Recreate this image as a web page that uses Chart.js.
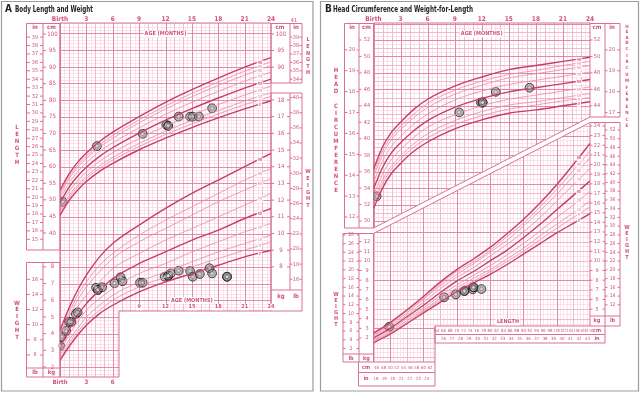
<!DOCTYPE html>
<html>
<head>
<meta charset="utf-8">
<title>Body length, weight, head circumference</title>
<script src="https://cdn.jsdelivr.net/npm/chart.js@4.4.1/dist/chart.umd.min.js"></script>
<style>
  html, body { margin: 0; padding: 0; background: #fff; }
  #page { position: relative; width: 640px; height: 393px; overflow: hidden; }
  #page canvas { position: absolute; left: 0; top: 0; }
</style>
</head>
<body>
<div id="page">
  <canvas id="chartA" width="640" height="393"></canvas>
  <canvas id="chartB" width="640" height="393"></canvas>
</div>
<script>
// ---- reference curves (girls) ----
const ageMonths = [0, 1, 2, 3, 4.5, 6, 9, 12, 15, 18, 21, 24];
const percentiles = ['98', '95', '90', '75', '50', '25', '10', '5', '2'];
const heavyPercentiles = ['98', '50', '2'];

// length-for-age (cm), one row per percentile above
const lengthCurves = [
  [52.9, 57.7, 61.3, 64.1, 67.6, 70.4, 75.1, 79.4, 83.2, 86.7, 90.0, 92.9],
  [52.2, 56.9, 60.4, 63.2, 66.7, 69.4, 74.1, 78.3, 82.1, 85.5, 88.8, 91.6],
  [51.5, 56.2, 59.7, 62.5, 65.9, 68.6, 73.2, 77.4, 81.1, 84.5, 87.6, 90.5],
  [50.4, 55.0, 58.5, 61.2, 64.6, 67.2, 71.7, 75.8, 79.4, 82.7, 85.8, 88.5],
  [49.1, 53.7, 57.1, 59.8, 63.1, 65.7, 70.1, 74.0, 77.5, 80.7, 83.7, 86.4],
  [47.9, 52.4, 55.7, 58.4, 61.6, 64.2, 68.5, 72.2, 75.6, 78.7, 81.6, 84.3],
  [46.7, 51.2, 54.5, 57.1, 60.3, 62.8, 67.0, 70.7, 74.0, 76.9, 79.8, 82.3],
  [46.0, 50.5, 53.8, 56.4, 59.5, 62.0, 66.1, 69.7, 72.9, 75.9, 78.7, 81.2],
  [45.3, 49.7, 52.9, 55.5, 58.6, 61.0, 65.1, 68.6, 71.8, 74.7, 77.4, 79.9]
];

// weight-for-age (kg)
const weightCurves = [
  [4.2, 5.5, 6.6, 7.5, 8.6, 9.4, 10.5, 11.5, 12.4, 13.2, 14.0, 14.8],
  [4.0, 5.2, 6.3, 7.1, 8.1, 8.8, 9.9, 10.8, 11.6, 12.4, 13.2, 13.9],
  [3.9, 5.0, 6.0, 6.8, 7.7, 8.5, 9.5, 10.3, 11.1, 11.9, 12.6, 13.3],
  [3.6, 4.6, 5.6, 6.3, 7.1, 7.9, 8.8, 9.6, 10.3, 11.0, 11.7, 12.4],
  [3.2, 4.2, 5.1, 5.8, 6.6, 7.3, 8.2, 8.9, 9.6, 10.2, 10.9, 11.5],
  [2.9, 3.9, 4.7, 5.4, 6.1, 6.7, 7.6, 8.2, 8.9, 9.5, 10.1, 10.6],
  [2.7, 3.6, 4.3, 5.0, 5.7, 6.3, 7.1, 7.7, 8.3, 8.9, 9.4, 9.9],
  [2.5, 3.4, 4.1, 4.7, 5.4, 6.0, 6.8, 7.4, 8.0, 8.5, 9.0, 9.5],
  [2.4, 3.2, 3.9, 4.5, 5.2, 5.7, 6.5, 7.1, 7.6, 8.1, 8.6, 9.0]
];

// head circumference-for-age (cm)
const headCurves = [
  [36.3, 39.0, 40.8, 42.0, 43.6, 44.8, 46.4, 47.5, 48.4, 48.9, 49.4, 49.9],
  [35.8, 38.5, 40.3, 41.5, 43.0, 44.3, 45.9, 47.0, 47.8, 48.3, 48.9, 49.4],
  [35.4, 38.0, 39.9, 41.1, 42.6, 43.8, 45.4, 46.5, 47.4, 47.9, 48.4, 48.9],
  [34.7, 37.3, 39.1, 40.3, 41.8, 43.0, 44.7, 45.8, 46.6, 47.1, 47.6, 48.1],
  [33.9, 36.5, 38.3, 39.5, 41.0, 42.2, 43.8, 44.9, 45.7, 46.2, 46.7, 47.2],
  [33.1, 35.7, 37.5, 38.7, 40.2, 41.4, 42.9, 44.0, 44.8, 45.3, 45.8, 46.3],
  [32.4, 35.0, 36.7, 37.9, 39.4, 40.6, 42.2, 43.3, 44.1, 44.5, 45.0, 45.5],
  [32.0, 34.5, 36.3, 37.5, 39.0, 40.1, 41.7, 42.8, 43.6, 44.1, 44.6, 45.0],
  [31.5, 34.0, 35.8, 37.0, 38.5, 39.6, 41.2, 42.3, 43.1, 43.5, 44.0, 44.5]
];

// weight-for-length (kg) against length (cm)
const wflLengths = [45, 50, 55, 60, 65, 70, 75, 80, 85, 90, 95, 100, 105, 110];
const wflCurves = [
  [2.5, 3.6, 4.9, 6.3, 7.8, 9.1, 10.2, 11.4, 12.8, 14.3, 16.0, 17.9, 20.0, 22.2],
  [2.4, 3.5, 4.8, 6.1, 7.6, 8.9, 9.9, 11.1, 12.5, 13.9, 15.6, 17.4, 19.4, 21.4],
  [2.3, 3.4, 4.6, 6.0, 7.4, 8.6, 9.7, 10.9, 12.1, 13.6, 15.2, 16.9, 18.8, 20.7],
  [2.2, 3.2, 4.4, 5.7, 7.1, 8.3, 9.3, 10.5, 11.7, 13.0, 14.5, 16.2, 17.9, 19.6],
  [2.0, 3.0, 4.2, 5.4, 6.7, 7.9, 8.9, 10.0, 11.1, 12.4, 13.8, 15.3, 16.8, 18.3],
  [1.8, 2.8, 4.0, 5.1, 6.4, 7.5, 8.5, 9.5, 10.6, 11.8, 13.1, 14.5, 15.8, 17.2],
  [1.7, 2.6, 3.8, 4.9, 6.1, 7.2, 8.2, 9.1, 10.2, 11.3, 12.6, 13.8, 15.0, 16.2],
  [1.6, 2.5, 3.6, 4.8, 5.9, 7.0, 7.9, 8.9, 9.9, 11.0, 12.2, 13.4, 14.5, 15.6],
  [1.5, 2.4, 3.5, 4.6, 5.7, 6.8, 7.7, 8.6, 9.6, 10.7, 11.8, 12.9, 13.9, 14.9]
];

// ---- the child's measurements ----
const lengthVisitAge = [0.3, 4.2, 9.4, 12.1, 12.3, 12.3, 13.5, 14.8, 15.1, 15.8, 17.3];
const lengthVisitCm = [49.4, 66.2, 69.9, 72.6, 72.3, 72.3, 75.1, 75.1, 75.1, 75.1, 77.6];
const weightVisitAge = [0.0, 0.2, 0.7, 1.0, 1.1, 1.3, 1.8, 2.0, 4.1, 4.3, 4.3, 4.8, 6.2, 6.9, 7.1, 9.1, 9.4,
  11.9, 12.3, 12.3, 12.3, 12.6, 13.5, 14.8, 15.1, 15.9, 17.0, 17.3, 19.0, 19.0];
const weightVisitKg = [3.28, 3.82, 4.16, 4.70, 4.72, 4.70, 5.18, 5.28, 6.75, 6.62, 6.62, 6.78, 7.02, 7.38, 7.14, 7.05, 7.05,
  7.41, 7.47, 7.47, 7.47, 7.61, 7.77, 7.75, 7.41, 7.57, 7.92, 7.61, 7.41, 7.41];
const headVisitAge = [0.35, 9.5, 11.9, 12.1, 12.1, 13.55, 17.3];
const headVisitCm = [33.0, 43.2, 44.4, 44.4, 44.4, 45.7, 46.2];
const wflVisitCm = [49.7, 66.2, 69.7, 72.3, 72.3, 74.8, 75.0, 75.0, 77.4];
const wflVisitKg = [3.17, 6.22, 6.53, 6.88, 6.88, 7.05, 7.26, 7.26, 7.08];

// ---- tick labels ----
const ageTicks = [0, 3, 6, 9, 12, 15, 18, 21, 24];
const ageTicksLow = [9, 12, 15, 18, 21, 24];
const ageTicksBottom = [0, 3, 6];
const lenInLeft = [15, 16, 17, 18, 19, 20, 21, 22, 23, 24, 25, 26, 27, 28, 29, 30, 31, 32, 33, 34, 35, 36, 37, 38, 39];
const lenCmLeft = [40, 45, 50, 55, 60, 65, 70, 75, 80, 85, 90, 95, 100];
const lenCmRight = [90, 95, 100];
const lenInRight = [34, 35, 36, 37, 38, 39, 41];
const wtKgRight = [8, 9, 10, 11, 12, 13, 14, 15, 16, 17, 18];
const wtLbRight = [16, 18, 20, 22, 24, 26, 28, 30, 32, 34, 36, 38, 40];
const wtKgLeft = [2, 3, 4, 5, 6, 7, 8];
const wtLbLeft = [6, 8, 10, 12, 14, 16];
const headCmLeft = [30, 32, 34, 36, 38, 40, 42, 44, 46, 48, 50, 52];
const headInLeft = [12, 13, 14, 15, 16, 17, 18, 19, 20];
const headCmRight = [44, 46, 48, 50, 52];
const headInRight = [17, 18, 19, 20];
const wflKgLeft = [2, 3, 4, 5, 6, 7, 8, 9, 10, 11, 12];
const wflLbLeft = [2, 4, 6, 8, 10, 12, 14, 16, 18, 20, 22, 24, 26, 28];
const wflKgRight = [5, 6, 7, 8, 9, 10, 11, 12, 13, 14, 15, 16, 17, 18, 19, 20, 21, 22, 23, 24];
const wflLbRight = [12, 14, 16, 18, 20, 22, 24, 26, 28, 30, 32, 34, 36, 38, 40, 42, 44, 46, 48, 50, 52];
const lenCmLow = [46, 48, 50, 52, 54, 56, 58, 60, 62];
const lenInLow = [18, 19, 20, 21, 22, 23, 24];
const lenCmHigh = [64, 66, 68, 70, 72, 74, 76, 78, 80, 82, 84, 86, 88, 90, 92, 94, 96, 98, 100, 102, 104, 106, 108, 110];
const lenInHigh = [26, 27, 28, 29, 30, 31, 32, 33, 34, 35, 36, 37, 38, 39, 40, 41, 42, 43];

const PINK = '#d0507a';
const FRAME = '#d9718f';
const GRID_MINOR = '#f9dce5';
const GRID_MID = '#efb3c4';
const GRID_MAJOR = '#df849e';
const CURVE_DARK = '#c63e69';
const CURVE_LIGHT = '#e78ba6';
const NARROW = '"Liberation Sans Narrow", "DejaVu Sans Condensed", "Liberation Sans", sans-serif';
const CM_PER_IN = 2.54, LB_PER_KG = 2.2046;

function txt(ctx, s, x, y, size, o = {}) {
  ctx.save();
  ctx.font = (o.bold ? 'bold ' : '') + size + 'px ' + (o.family || NARROW);
  ctx.textAlign = o.align || 'center';
  ctx.textBaseline = 'middle';
  let w = ctx.measureText(s).width;
  if (o.maxWidth) w = Math.min(w, o.maxWidth);
  if (o.bg) {
    const left = ctx.textAlign === 'center' ? x - w / 2 : ctx.textAlign === 'right' ? x - w : x;
    ctx.fillStyle = o.bg;
    ctx.fillRect(left - 1, y - size / 2 - 0.5, w + 2, size + 1);
  }
  ctx.fillStyle = o.color || PINK;
  if (o.maxWidth) ctx.fillText(s, x, y, o.maxWidth); else ctx.fillText(s, x, y);
  ctx.restore();
}

function line(ctx, pts, close, color = FRAME, width = 1) {
  ctx.save();
  ctx.strokeStyle = color; ctx.lineWidth = width;
  ctx.beginPath();
  pts.forEach((p, i) => i ? ctx.lineTo(p[0], p[1]) : ctx.moveTo(p[0], p[1]));
  if (close) ctx.closePath();
  ctx.stroke();
  ctx.restore();
}

function vword(ctx, word, x, y0, step, size) {
  word.split('').forEach((c, i) => txt(ctx, c, x, y0 + i * step, size, { bold: true }));
}

function drawGrid(ctx, clip, levels) {
  const xs = clip.map(p => p[0]), ys = clip.map(p => p[1]);
  const L = Math.min(...xs), R = Math.max(...xs), T = Math.min(...ys), B = Math.max(...ys);
  ctx.save();
  ctx.beginPath();
  clip.forEach((p, i) => i ? ctx.lineTo(p[0], p[1]) : ctx.moveTo(p[0], p[1]));
  ctx.closePath();
  ctx.clip();
  levels.forEach(([scale, step, color, width, vertical, offset = 0]) => {
    const a = scale.getValueForPixel(vertical ? L : B);
    const b = scale.getValueForPixel(vertical ? R : T);
    const lo = Math.min(a, b), hi = Math.max(a, b);
    ctx.strokeStyle = color; ctx.lineWidth = width;
    ctx.beginPath();
    for (let k = Math.ceil((lo - offset) / step - 1e-6); offset + k * step <= hi + 1e-6; k++) {
      const p = Math.round(scale.getPixelForValue(offset + k * step)) + 0.5;
      if (vertical) { ctx.moveTo(p, T); ctx.lineTo(p, B); } else { ctx.moveTo(L, p); ctx.lineTo(R, p); }
    }
    ctx.stroke();
  });
  ctx.restore();
}

// labelled column of ticks on a vertical scale
function column(ctx, scale, ticks, toValue, x, size, tickL, tickR) {
  ticks.forEach(t => {
    const y = scale.getPixelForValue(toValue(t));
    txt(ctx, String(t), x, y, size);
    if (tickL) line(ctx, [[tickL[0], y], [tickL[1], y]]);
    if (tickR) line(ctx, [[tickR[0], y], [tickR[1], y]]);
  });
}

function row(ctx, scale, ticks, toValue, y, size, fmt = String, o = {}) {
  ticks.forEach(t => txt(ctx, fmt(t), scale.getPixelForValue(toValue(t)), y, size, o));
}

function pctLabels(chart) {
  const ctx = chart.ctx;
  chart.data.datasets.forEach((ds, i) => {
    if (!ds.pctLabel) return;
    const pts = chart.getDatasetMeta(i).data;
    const last = pts[pts.length - 1], prev = pts[pts.length - 2];
    const dx = 11;
    const y = last.y + (prev.y - last.y) * dx / (last.x - prev.x);
    txt(ctx, ds.pctLabel, last.x - dx, y + 1, 4, { bg: 'rgba(255,255,255,0.8)', color: ds.borderColor });
  });
}

// small light centre on each visit marker (where the visit number sits)
function markerCentres(chart) {
  const ctx = chart.ctx;
  chart.data.datasets.forEach((ds, i) => {
    if (!ds.visit) return;
    chart.getDatasetMeta(i).data.forEach(p => {
      ctx.save();
      ctx.beginPath();
      ctx.arc(p.x, p.y, 1.8, 0, Math.PI * 2);
      ctx.fillStyle = 'rgba(235,235,235,0.55)';
      ctx.strokeStyle = 'rgba(60,60,60,0.6)';
      ctx.lineWidth = 0.5;
      ctx.fill(); ctx.stroke();
      ctx.restore();
    });
  });
}

function curveSet(xs, values, i, xAxisID, yAxisID) {
  const heavy = heavyPercentiles.includes(percentiles[i]);
  return {
    data: xs.map((v, k) => ({ x: v, y: values[k] })),
    xAxisID, yAxisID, pctLabel: percentiles[i],
    borderColor: heavy ? CURVE_DARK : CURVE_LIGHT,
    borderWidth: heavy ? 1.4 : 0.8,
    pointRadius: 0, fill: false, cubicInterpolationMode: 'monotone'
  };
}

function visitSet(xs, ys, xAxisID, yAxisID) {
  return {
    data: xs.map((v, k) => ({ x: v, y: ys[k] })),
    xAxisID, yAxisID, showLine: false, visit: true,
    pointRadius: 4.4, pointBackgroundColor: 'rgba(120,120,120,0.5)',
    pointBorderColor: 'rgba(25,25,25,0.85)', pointBorderWidth: 0.9
  };
}

function options(padding, scales) {
  return {
    responsive: false, animation: false, events: [],
    layout: { padding },
    plugins: { legend: { display: false }, tooltip: { enabled: false } },
    scales
  };
}

// ---------- panel A ----------
const panelA = {
  id: 'panelA',
  beforeDraw(chart) {
    const ctx = chart.ctx;
    const { x, yLen, yWt } = chart.scales;
    line(ctx, [[1.5, 1.5], [313, 1.5], [313, 391], [1.5, 391]], true, '#9c9c9c', 1.2);
    txt(ctx, 'A', 5, 9.5, 10, { bold: true, align: 'left', color: '#222' });
    txt(ctx, 'Body Length and Weight', 15, 9.5, 8.5, { bold: true, align: 'left', color: '#222', maxWidth: 78 });

    const grid = [[60, 23], [271, 23], [271, 311], [119, 311], [119, 377], [60, 377]];
    drawGrid(ctx, grid, [
      [x, 0.5, GRID_MINOR, 0.8, true],
      [yWt, 0.2, GRID_MINOR, 0.8, false],
      [x, 1, GRID_MID, 0.8, true],
      [yWt, 1, GRID_MAJOR, 0.9, false],
      [x, 3, GRID_MAJOR, 0.9, true]
    ]);
    line(ctx, grid, true);
    // side boxes
    line(ctx, [[26.5, 23.5], [60, 23.5], [60, 250], [26.5, 250]], true);
    line(ctx, [[43, 23.5], [43, 250]]);
    line(ctx, [[26.5, 262.5], [60, 262.5], [60, 377], [26.5, 377]], true);
    line(ctx, [[43, 262.5], [43, 377]]);
    line(ctx, [[26.5, 368], [60, 368]]);
    line(ctx, [[271, 23.5], [302, 23.5], [302, 83], [271, 83]], true);
    line(ctx, [[290, 23.5], [290, 83]]);
    line(ctx, [[271, 93], [302, 93], [302, 311], [271, 311]], true);
    line(ctx, [[290, 93], [290, 290]]);
    line(ctx, [[271, 290], [302, 290]]);

    // age labels
    row(ctx, x, ageTicks, v => v, 19, 6.5, v => v === 0 ? 'Birth' : String(v), { bold: true });
    txt(ctx, 'AGE (MONTHS)', x.getPixelForValue(12), 34, 5.5, { bold: true, bg: '#fff' });
    txt(ctx, 'AGE (MONTHS)', x.getPixelForValue(15), 300.5, 5.5, { bold: true, bg: '#fff' });
    row(ctx, x, ageTicksLow, v => v, 307, 5.5, String, { bold: true, bg: '#fff' });
    row(ctx, x, ageTicksBottom, v => v, 382, 6, v => v === 0 ? 'Birth' : String(v), { bold: true });

    // length columns
    txt(ctx, 'in', 35, 27.5, 6, { bold: true });
    txt(ctx, 'cm', 51.5, 27.5, 6, { bold: true });
    column(ctx, yLen, lenInLeft, v => v * CM_PER_IN, 35, 5.5, [27, 30], [40, 43]);
    column(ctx, yLen, lenCmLeft, v => v, 52.5, 6, [43, 46]);
    txt(ctx, 'cm', 280, 27.5, 6, { bold: true });
    txt(ctx, 'in', 296, 27.5, 6, { bold: true });
    column(ctx, yLen, lenCmRight, v => v, 281, 6, [271, 274]);
    column(ctx, yLen, lenInRight.filter(v => v < 40), v => v * CM_PER_IN, 296, 5.5, [290, 292.5], [299.5, 302]);
    txt(ctx, '41', 294, yLen.getPixelForValue(41 * CM_PER_IN), 5.5);

    // weight columns
    column(ctx, yWt, wtKgRight, v => v, 281, 6, [271, 274], [287, 290]);
    column(ctx, yWt, wtLbRight, v => v / LB_PER_KG, 296, 5.5, [290, 292.5], [299.5, 302]);
    txt(ctx, 'kg', 281, 296, 6, { bold: true });
    txt(ctx, 'lb', 296, 296, 6, { bold: true });
    column(ctx, yWt, wtLbLeft, v => v / LB_PER_KG, 35, 5.5, [27, 30], [40, 43]);
    column(ctx, yWt, wtKgLeft, v => v, 52.5, 6, [43, 46]);
    txt(ctx, 'lb', 35, 372.5, 6, { bold: true });
    txt(ctx, 'kg', 51.5, 372.5, 6, { bold: true });

    vword(ctx, 'LENGTH', 17, 127, 7, 6);
    vword(ctx, 'WEIGHT', 17, 303, 6.8, 6);
    vword(ctx, 'LENGTH', 308, 40, 6.6, 5.5);
    vword(ctx, 'WEIGHT', 308, 172, 6.7, 5.5);
  },
  afterDatasetsDraw(chart) { pctLabels(chart); markerCentres(chart); }
};

new Chart(document.getElementById('chartA'), {
  type: 'line',
  data: {
    datasets: [
      ...lengthCurves.map((r, i) => curveSet(ageMonths, r, i, 'x', 'yLen')),
      ...weightCurves.map((r, i) => curveSet(ageMonths, r, i, 'x', 'yWt')),
      visitSet(lengthVisitAge, lengthVisitCm, 'x', 'yLen'),
      visitSet(weightVisitAge, weightVisitKg, 'x', 'yWt')
    ]
  },
  options: options({ left: 60, right: 369, top: 23, bottom: 16 }, {
    x: { type: 'linear', display: false, min: 0, max: 24 },
    yLen: { type: 'linear', display: false, min: -3.417, max: 103.317 },
    yWt: { type: 'linear', display: false, min: 1.401, max: 22.614 }
  }),
  plugins: [panelA]
});

// ---------- panel B ----------
const panelB = {
  id: 'panelB',
  beforeDraw(chart) {
    const ctx = chart.ctx;
    const { x, xLen, yHead, yWfl } = chart.scales;
    line(ctx, [[320.5, 1.5], [638.5, 1.5], [638.5, 391], [320.5, 391]], true, '#9c9c9c', 1.2);
    txt(ctx, 'B', 325, 9.5, 10, { bold: true, align: 'left', color: '#222' });
    txt(ctx, 'Head Circumference and Weight-for-Length', 333, 9.5, 8.5, { bold: true, align: 'left', color: '#222', maxWidth: 140 });

    const headGrid = [[373.5, 23], [590, 23], [590, 117], [373.5, 228]];
    drawGrid(ctx, headGrid, [
      [x, 0.5, GRID_MINOR, 0.8, true],
      [yHead, 0.5, GRID_MINOR, 0.8, false],
      [x, 1, GRID_MID, 0.8, true],
      [yHead, 1, GRID_MID, 0.8, false],
      [yHead, 2, GRID_MAJOR, 0.9, false],
      [x, 3, GRID_MAJOR, 0.9, true]
    ]);
    const wflGrid = [[373.5, 233.5], [590, 122.5], [590, 326], [435, 326], [435, 362], [373.5, 362]];
    drawGrid(ctx, wflGrid, [
      [xLen, 1, GRID_MINOR, 0.8, true],
      [yWfl, 0.5, GRID_MINOR, 0.8, false],
      [xLen, 5, GRID_MID, 0.8, true],
      [yWfl, 1, GRID_MID, 0.8, false],
      [yWfl, 5, GRID_MAJOR, 0.9, false, 3],
      [xLen, 10, GRID_MAJOR, 0.9, true]
    ]);
    line(ctx, [[373.5, 228], [373.5, 23], [590, 23], [590, 117]]);
    line(ctx, [[344.5, 228], [373.5, 228], [590, 117], [620, 117]]);
    line(ctx, [[343, 233.5], [373.5, 233.5], [590, 122.5], [620, 122.5]]);
    line(ctx, [[590, 122.5], [590, 326], [435, 326], [435, 362], [373.5, 362], [373.5, 233.5]]);

    // boxes
    line(ctx, [[373.5, 23.5], [344.5, 23.5], [344.5, 228]]);
    line(ctx, [[359, 23.5], [359, 228]]);
    line(ctx, [[590, 23.5], [620, 23.5], [620, 117]]);
    line(ctx, [[605, 23.5], [605, 117]]);
    line(ctx, [[343, 233.5], [343, 362], [373.5, 362]]);
    line(ctx, [[359, 233.5], [359, 362]]);
    line(ctx, [[343, 354], [373.5, 354]]);
    line(ctx, [[620, 122.5], [620, 326], [590, 326]]);
    line(ctx, [[605, 122.5], [605, 326]]);
    line(ctx, [[590, 316], [620, 316]]);
    line(ctx, [[358.5, 362], [358.5, 386], [435, 386], [435, 362]]);
    line(ctx, [[358.5, 372.5], [435, 372.5]]);
    line(ctx, [[435, 326], [435, 343], [605, 343], [605, 326]]);
    line(ctx, [[435, 334.5], [605, 334.5]]);

    // age labels
    row(ctx, x, ageTicks, v => v, 19, 6.5, v => v === 0 ? 'Birth' : String(v), { bold: true });
    txt(ctx, 'AGE (MONTHS)', x.getPixelForValue(12), 34, 5.5, { bold: true, bg: '#fff' });

    // head circumference columns
    txt(ctx, 'in', 352, 27.5, 6, { bold: true });
    txt(ctx, 'cm', 366.5, 27.5, 6, { bold: true });
    column(ctx, yHead, headInLeft, v => v * CM_PER_IN, 352, 5.5, [345, 347.5], [356.5, 359]);
    column(ctx, yHead, headCmLeft, v => v, 367, 5.5, [359, 361.5]);
    txt(ctx, 'cm', 597, 27.5, 6, { bold: true });
    txt(ctx, 'in', 612, 27.5, 6, { bold: true });
    column(ctx, yHead, headCmRight, v => v, 597, 5.5, [590, 592.5]);
    column(ctx, yHead, headInRight, v => v * CM_PER_IN, 612, 5.5, [605, 607.5], [617, 620]);

    // weight-for-length columns
    column(ctx, yWfl, wflLbLeft, v => v / LB_PER_KG, 351, 5, [343, 345.5], [356.5, 359]);
    column(ctx, yWfl, wflKgLeft, v => v, 367, 5.5, [359, 361.5]);
    txt(ctx, 'lb', 351, 358.5, 5.5, { bold: true });
    txt(ctx, 'kg', 366.5, 358.5, 5.5, { bold: true });
    column(ctx, yWfl, wflKgRight, v => v, 597, 5.5, [590, 592.5], [602.5, 605]);
    column(ctx, yWfl, wflLbRight, v => v / LB_PER_KG, 612.5, 5, [605, 607.5], [617.5, 620]);
    txt(ctx, 'kg', 597, 321, 5.5, { bold: true });
    txt(ctx, 'lb', 612.5, 321, 5.5, { bold: true });

    // length rows
    txt(ctx, 'LENGTH', 508, 322, 5.5, { bold: true, bg: '#fff' });
    row(ctx, xLen, lenCmHigh, v => v, 330.5, 4.3, String, { maxWidth: 6.3 });
    row(ctx, xLen, lenInHigh, v => v * CM_PER_IN, 338.7, 4.3, String, { maxWidth: 6.3 });
    txt(ctx, 'cm', 597, 330.5, 5.5, { bold: true });
    txt(ctx, 'in', 597, 338.7, 5.5, { bold: true });
    row(ctx, xLen, lenCmLow, v => v, 367.5, 4.3, String, { maxWidth: 6.3 });
    row(ctx, xLen, lenInLow, v => v * CM_PER_IN, 379, 4.3, String, { maxWidth: 6.3 });
    txt(ctx, 'cm', 366, 367.5, 5.5, { bold: true });
    txt(ctx, 'in', 366, 379, 5.5, { bold: true });

    vword(ctx, 'HEAD', 336, 70, 7, 6);
    vword(ctx, 'CIRCUMFERENCE', 336, 106, 7, 6);
    vword(ctx, 'WEIGHT', 336, 295, 6, 5.5);
    vword(ctx, 'HEAD', 627, 27, 5.3, 4.5);
    vword(ctx, 'CIRCUMFERENCE', 627, 49, 6.4, 4.5);
    vword(ctx, 'WEIGHT', 627, 228, 6, 5.5);
  },
  afterDatasetsDraw(chart) { pctLabels(chart); markerCentres(chart); }
};

new Chart(document.getElementById('chartB'), {
  type: 'line',
  data: {
    datasets: [
      ...headCurves.map((r, i) => curveSet(ageMonths, r, i, 'x', 'yHead')),
      ...wflCurves.map((r, i) => curveSet(wflLengths, r, i, 'xLen', 'yWfl')),
      visitSet(headVisitAge, headVisitCm, 'x', 'yHead'),
      visitSet(wflVisitCm, wflVisitKg, 'xLen', 'yWfl')
    ]
  },
  options: options({ left: 373.5, right: 50, top: 23, bottom: 31 }, {
    x: { type: 'linear', display: false, min: 0, max: 24 },
    xLen: { type: 'linear', display: false, min: 45, max: 110 },
    yHead: { type: 'linear', display: false, min: 12.861, max: 54.066 },
    yWfl: { type: 'linear', display: false, min: -0.491, max: 34.689 }
  }),
  plugins: [panelB]
});
</script>
</body>
</html>
